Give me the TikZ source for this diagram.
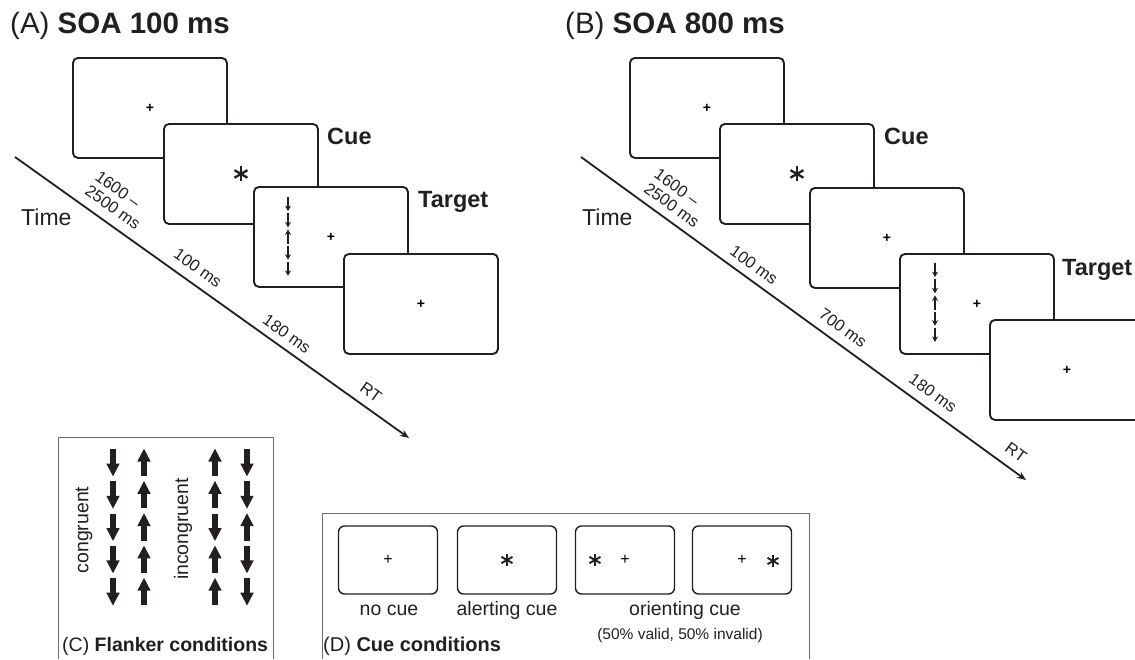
\documentclass[tikz,border=0pt]{standalone}
\usepackage{fontspec}
\setmainfont{Liberation Sans}
\usetikzlibrary{arrows.meta}
\definecolor{ink}{HTML}{231F20}
\definecolor{frm}{HTML}{6E6E6E}
\newcommand\plb{\fontsize{14}{16}\selectfont\textbf{+}}
\newcommand\pln{\fontsize{16}{18}\selectfont +}
\begin{document}
\begin{tikzpicture}[x=1pt,y=-1pt,
  scr/.style={draw=ink, line width=1.9pt, rounded corners=5pt, fill=white,
    minimum width=154pt, minimum height=100pt, inner sep=0pt, anchor=north west},
  mini/.style={draw=ink, line width=1.4pt, rounded corners=6pt, fill=white,
    minimum width=99pt, minimum height=68pt, inner sep=0pt},
  ttl/.style={anchor=base west, inner sep=0pt, text=ink, font=\fontsize{29.5}{32}\selectfont},
  lbl/.style={anchor=base west, inner sep=0pt, text=ink, font=\fontsize{23.5}{26}\selectfont\bfseries},
  tim/.style={anchor=base west, inner sep=0pt, text=ink, font=\fontsize{23}{26}\selectfont},
  ms/.style={inner sep=0pt, text=ink, align=left, font=\fontsize{16.5}{17.5}\selectfont},
  axis/.style={draw=ink, line width=1.8pt, -{Stealth[length=9pt,width=7pt]}},
  sarr/.style={draw=ink, line width=1.4pt, -{Stealth[length=5.5pt,width=6pt]}},
  cond/.style={inner sep=0pt, text=ink, font=\fontsize{19.5}{22}\selectfont},
  small/.style={inner sep=0pt, text=ink, font=\fontsize{15.5}{18}\selectfont},
  frame/.style={draw=frm, line width=1pt},
  farr/.pic={\fill[ink] (-2.9,-13.5) rectangle (2.9,2); \fill[ink] (-6.7,1) -- (6.7,1) -- (0,13.8) -- cycle;},
  askb/.pic={\foreach \a in {90,30,150} \draw[ink, line width=2.3pt] (\a:7.5) -- (\a+180:7.5);},
  asks/.pic={\foreach \a in {90,30,150} \draw[ink, line width=1.9pt] (\a:6.3) -- (\a+180:6.3);}
]
\useasboundingbox (0,0) rectangle (1135,659);
\clip (0,0) rectangle (1135,659);

% ---------------- Panel A ----------------
\node[ttl] (titA) at (10,33) {(A) \textbf{SOA 100 ms}};
\node[scr] (a1) at (72,57) {\plb};
\node[scr] (a2) at (163,123) {};
\pic at (a2.center) {askb};
\node[scr] (a3) at (253,186) {\plb};
\begin{scope}[shift={(a3.north west)}]
  \foreach \d [count=\i from 0] in {1,1,-1,1,1}
    \draw[sarr] (35,{10+8.1+16.2*\i-7*\d}) -- (35,{10+8.1+16.2*\i+7*\d});
\end{scope}
\node[scr] (a4) at (343,253) {\plb};
\node[lbl] (cueA) at (327,144) {Cue};
\node[lbl] (tarA) at (418,207) {Target};
\coordinate (asA) at (15,157);
\coordinate (aeA) at (409,438);
\draw[axis] (asA) -- (aeA);
\node[tim] (timeA) at (21,225) {Time};
\node[ms, rotate=-35.5] (l1A) at (118,200) {1600 –\\2500 ms};
\node[ms, rotate=-35.5] (l2A) at (198,268) {100 ms};
\node[ms, rotate=-35.5] (l3A) at (287,334) {180 ms};
\node[ms, rotate=-35.5] (l4A) at (371,392) {RT};

% ---------------- Panel B ----------------
\node[ttl] (titB) at (565,33) {(B) \textbf{SOA 800 ms}};
\node[scr] (b1) at (629,57) {\plb};
\node[scr] (b2) at (719,123) {};
\pic at (b2.center) {askb};
\node[scr] (b3) at (809,187) {\plb};
\node[scr] (b4) at (899,253) {\plb};
\begin{scope}[shift={(b4.north west)}]
  \foreach \d [count=\i from 0] in {1,1,-1,1,1}
    \draw[sarr] (36,{9+8.1+16.2*\i-7*\d}) -- (36,{9+8.1+16.2*\i+7*\d});
\end{scope}
\node[scr] (b5) at (989,319) {\plb};
\node[lbl] (cueB) at (884,144) {Cue};
\node[lbl] (tarB) at (1062,275) {Target};
\coordinate (asB) at (581,157);
\coordinate (aeB) at (1026,480);
\draw[axis] (asB) -- (aeB);
\node[tim] (timeB) at (582,225) {Time};
\node[ms, rotate=-36] (l1B) at (677,198) {1600 –\\2500 ms};
\node[ms, rotate=-36] (l2B) at (754,265) {100 ms};
\node[ms, rotate=-36] (l3B) at (843,328) {700 ms};
\node[ms, rotate=-36] (l4B) at (933,393) {180 ms};
\node[ms, rotate=-36] (l5B) at (1016,452) {RT};

% ---------------- Panel C ----------------
\draw[frame] (58,659) |- (273,437) -- (273,659);
\foreach \x/\a/\b/\c/\d/\e in {113/0/0/0/0/0, 144/180/180/180/180/180, 215/180/180/0/180/180, 247/0/0/180/0/0}
  \foreach \r/\ang in {0/\a,1/\b,2/\c,3/\d,4/\e}
    \pic[rotate=\ang] at (\x,{462.5+32.3*\r}) {farr};
\node[cond, rotate=90] (cong) at (84,530) {congruent};
\node[cond, rotate=90] (incong) at (183,529) {incongruent};
\node[cond, anchor=base west] (titC) at (62,651) {(C) \textbf{Flanker conditions}};

% ---------------- Panel D ----------------
\draw[frame] (322,659) |- (809,513) -- (809,659);
\node[mini] (d1) at (388,560) {\pln};
\node[mini] (d2) at (507,560) {};
\pic at (d2.center) {asks};
\node[mini] (d3) at (625,560) {\pln};
\pic at (595,560) {asks};
\node[mini] (d4) at (742,560) {\pln};
\pic at (773,561) {asks};
\node[cond, anchor=base] (nocue) at (389,615) {no cue};
\node[cond, anchor=base] (alert) at (507,615) {alerting cue};
\node[cond, anchor=base] (orient) at (685,615) {orienting cue};
\node[small, anchor=base] (valid) at (680,639) {(50\% valid, 50\% invalid)};
\node[cond, anchor=base west, font=\fontsize{20}{22}\selectfont] (titD) at (323,651) {(D) \textbf{Cue conditions}};
\end{tikzpicture}
\end{document}
